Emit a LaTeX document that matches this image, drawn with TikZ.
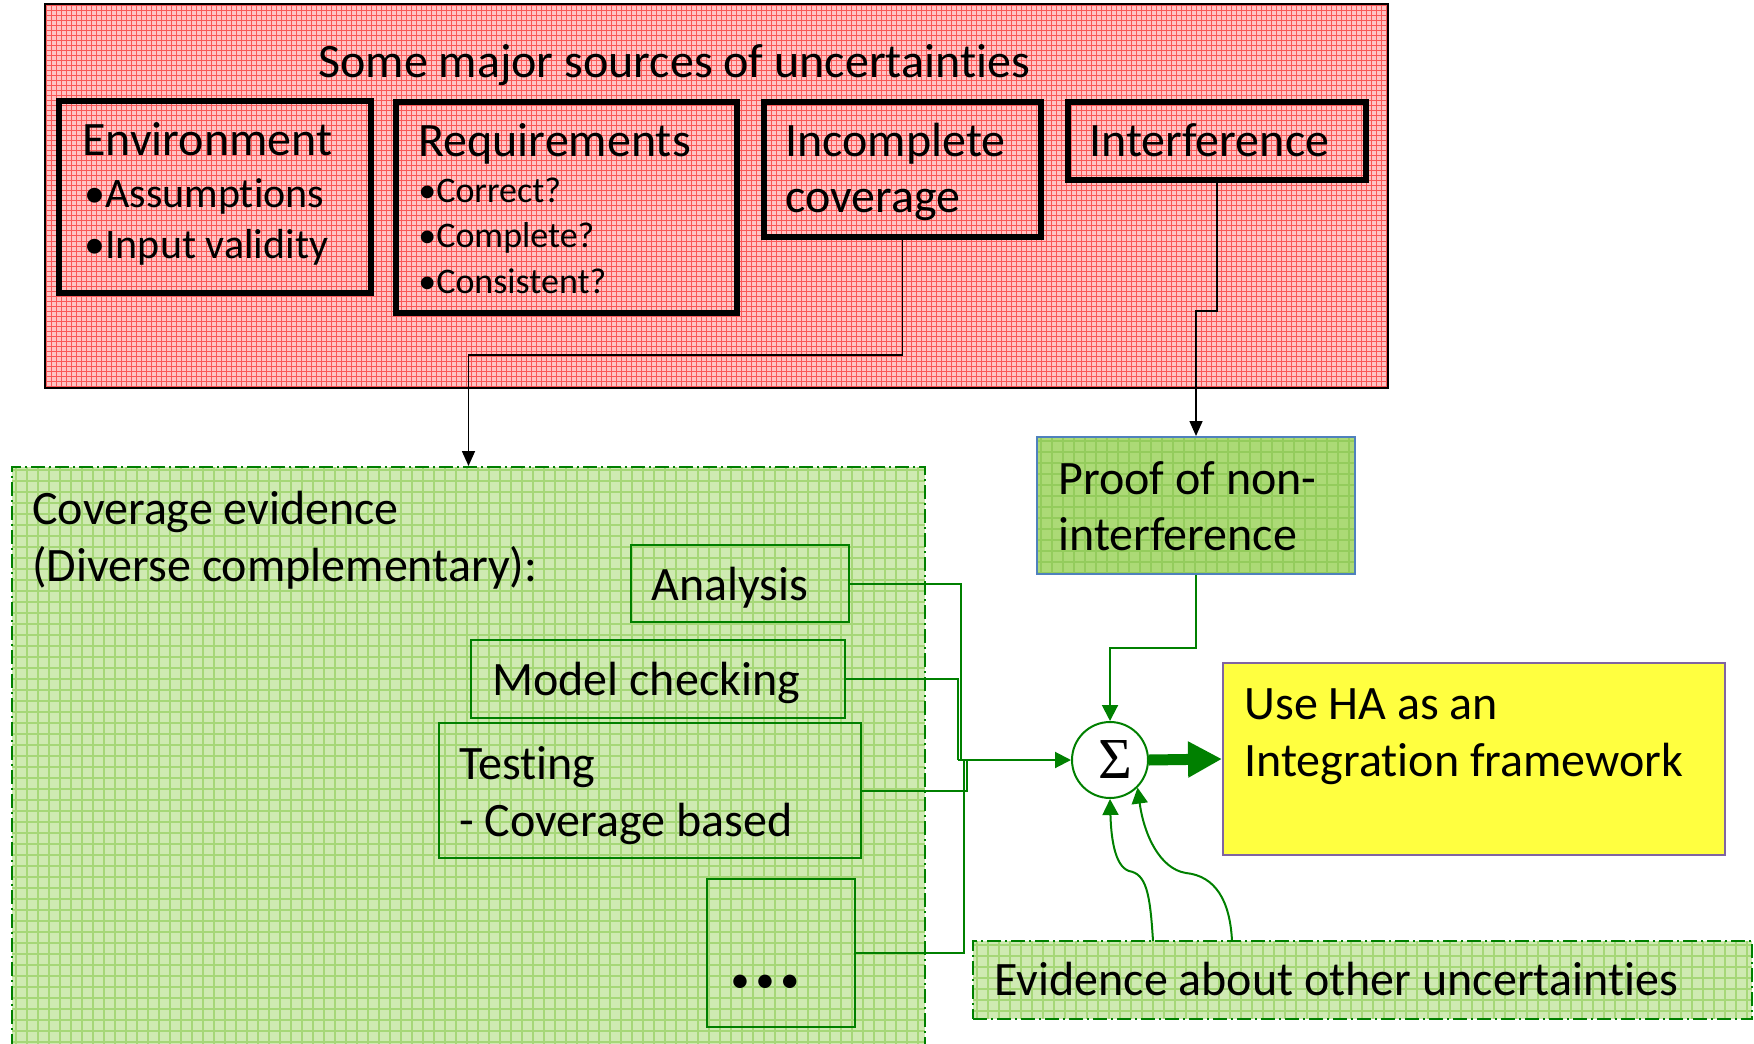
\documentclass[tikz,border=0pt]{standalone}
\usepackage{fontspec}
\setmainfont{Carlito}[Ligatures=NoCommon]
\newfontfamily\sigfont{Liberation Serif}
\usetikzlibrary{arrows.meta,fit}
\definecolor{pinkbase}{RGB}{255,196,196}
\definecolor{pinkline}{RGB}{250,88,88}
\definecolor{gbase}{RGB}{207,234,178}
\definecolor{gline}{RGB}{166,215,120}
\definecolor{pbase}{RGB}{172,218,118}
\definecolor{pline}{RGB}{148,204,92}
\definecolor{dgreen}{RGB}{0,128,0}
\definecolor{yfill}{RGB}{255,255,64}
\definecolor{yborder}{RGB}{128,100,162}
\definecolor{bborder}{RGB}{79,129,189}
\tikzset{
  big/.style={font=\fontsize{24pt}{28.5pt}\selectfont},
  mid/.style={font=\fontsize{21pt}{25pt}\selectfont},
  small/.style={font=\fontsize{18pt}{22pt}\selectfont},
  txt/.style={anchor=base west, inner sep=0pt},
  thickbox/.style={draw=black, line width=2.75pt, inner sep=0pt},
  gbox/.style={draw=dgreen, line width=1pt, inner sep=0pt},
  ddbox/.style={draw=dgreen, line width=1pt, dash pattern=on 7pt off 2pt on 1pt off 2pt, inner sep=0pt},
  blk/.style={draw=black, line width=0.8pt, -{Triangle[length=7.5pt,width=6.5pt]}},
  gln/.style={draw=dgreen, line width=1pt},
  garr/.style={draw=dgreen, line width=1pt, -{Triangle[length=8pt,width=8pt]}},
}
\begin{document}
\begin{tikzpicture}[x=0.5pt,y=-0.5pt]
\useasboundingbox (0,0) rectangle (1754,1043);
% ---------- red source box background ----------
\begin{scope}
  \clip (45,4) rectangle (1388,388);
  \fill[pinkbase] (45,4) rectangle (1388,388);
  \foreach \x in {46,51,...,1388} \draw[pinkline, line width=0.5pt] (\x,4) -- (\x,388);
  \foreach \y in {6,11,...,388} \draw[pinkline, line width=0.5pt] (45,\y) -- (1388,\y);
\end{scope}
\node[draw=black, line width=1pt, inner sep=0pt, fit={(45,4) (1388,388)}] (src) {};
\node[txt, big] (title) at (318,78) {Some major sources of uncertainties};

\node[thickbox, fit={(59,101) (371,293)}] (env) {};
\node[txt, big] (envt) at (82,156) {Environment};
\node[txt, mid] (env1) at (84,208) {•Assumptions};
\node[txt, mid] (env2) at (84,258) {•Input validity};

\node[thickbox, fit={(396,102) (737,313)}] (req) {};
\node[txt, big] (reqt) at (418,157) {Requirements};
\node[txt, small] (req1) at (418,203) {•Correct?};
\node[txt, small] (req2) at (418,248) {•Complete?};
\node[txt, small] (req3) at (418,293) {•Consistent?};

\node[thickbox, fit={(764,102) (1041,237)}] (inc) {};
\node[txt, big] (inct1) at (785,157) {Incomplete};
\node[txt, big] (inct2) at (785,213) {coverage};

\node[thickbox, fit={(1068,102) (1366,180)}] (intf) {};
\node[txt, big] (intft) at (1089,157) {Interference};

% ---------- green coverage box ----------
\begin{scope}
  \clip (12,467) rectangle (925,1050);
  \fill[gbase] (12,467) rectangle (925,1050);
  \foreach \x in {16,27,...,925} \draw[gline, line width=0.6pt] (\x,467) -- (\x,1050);
  \foreach \y in {470,481,...,1050} \draw[gline, line width=0.6pt] (12,\y) -- (925,\y);
\end{scope}
\node[ddbox, fit={(12,467) (925,1050)}] (cov) {};
\node[txt, big] (covt1) at (32,524) {Coverage evidence};
\node[txt, big] (covt2) at (32,581) {(Diverse complementary):};

\node[gbox, fit={(631,545) (849,622)}] (ana) {};
\node[txt, big] (anat) at (651,600) {Analysis};
\node[gbox, fit={(471,640) (845,718)}] (mod) {};
\node[txt, big] (modt) at (492,695) {Model checking};
\node[gbox, fit={(439,723) (861,858)}] (tes) {};
\node[txt, big] (test1) at (459,779) {Testing};
\node[txt, big] (test2) at (459,836) {- Coverage based};
\node[gbox, fit={(707,879) (855,1027)}] (dots) {};
\node[inner sep=0pt, font=\fontsize{19pt}{19pt}\selectfont] (dotst) at (765,984) {•\kern3pt•\kern3pt•};

% ---------- proof box ----------
\begin{scope}
  \clip (1037,437) rectangle (1355,574);
  \fill[pbase] (1037,437) rectangle (1355,574);
  \foreach \x in {1041,1052,...,1355} \draw[pline, line width=0.6pt] (\x,437) -- (\x,574);
  \foreach \y in {441,452,...,574} \draw[pline, line width=0.6pt] (1037,\y) -- (1355,\y);
\end{scope}
\node[draw=bborder, line width=1pt, inner sep=0pt, fit={(1037,437) (1355,574)}] (proof) {};
\node[txt, big] (proof1) at (1058,494) {Proof of non-};
\node[txt, big] (proof2) at (1058,550) {interference};

% ---------- evidence box ----------
\begin{scope}
  \clip (973,941) rectangle (1752,1019);
  \fill[gbase] (973,941) rectangle (1752,1019);
  \foreach \x in {977,988,...,1752} \draw[gline, line width=0.6pt] (\x,941) -- (\x,1019);
  \foreach \y in {945,956,...,1019} \draw[gline, line width=0.6pt] (973,\y) -- (1752,\y);
\end{scope}
\node[ddbox, fit={(973,941) (1752,1019)}] (evid) {};
\node[txt, big] (evidt) at (994,995) {Evidence about other uncertainties};

% ---------- yellow box ----------
\node[draw=yborder, fill=yfill, line width=1pt, inner sep=0pt, fit={(1223,663) (1725,855)}] (yel) {};
\node[txt, big] (yel1) at (1244,719) {Use HA as an};
\node[txt, big] (yel2) at (1244,776) {Integration framework};

% ---------- sigma ----------
\node[circle, draw=dgreen, fill=white, line width=1pt, minimum size=38pt, inner sep=0pt] (sig) at (1110,760) {};
\node[inner sep=0pt, font=\sigfont\fontsize{29pt}{29pt}\selectfont] (sigt) at (1115,760) {Σ};

% ---------- connectors ----------
\draw[blk] (inc.south) -- ++(0,115) -| (cov.north);
\draw[blk] (intf.south) -- ++(0,128) -| (proof.north);
\draw[garr] (proof.south) -- ++(0,73) -| (sig.north);

\coordinate (ja) at (961,760);
\coordinate (jm) at (958,760);
\coordinate (jt) at (967,760);
\coordinate (jd) at (964,760);
\draw[gln] (ana.east) -| (ja);
\draw[gln] (mod.east) -| (jm);
\draw[gln] (tes.east) -| (jt);
\draw[gln] (dots.east) -| (jd);
\draw[garr] (jm) -- (sig.west);

\draw[dgreen, line width=5.5pt, -{Triangle[length=17pt,width=17pt]}] (sig.east) -- (yel.west);

\coordinate (e1) at (1153,941);
\coordinate (e2) at (1232,941);
\draw[garr] (e1) .. controls (1150,892) and (1146,874) .. (1129,871)
  .. controls (1114,866) and (1111,835) .. (sig.south);
\draw[garr] (e2) .. controls (1230,900) and (1215,876) .. (1186,873)
  .. controls (1160,869) and (1144,835) .. (sig.-45);
\end{tikzpicture}
\end{document}
